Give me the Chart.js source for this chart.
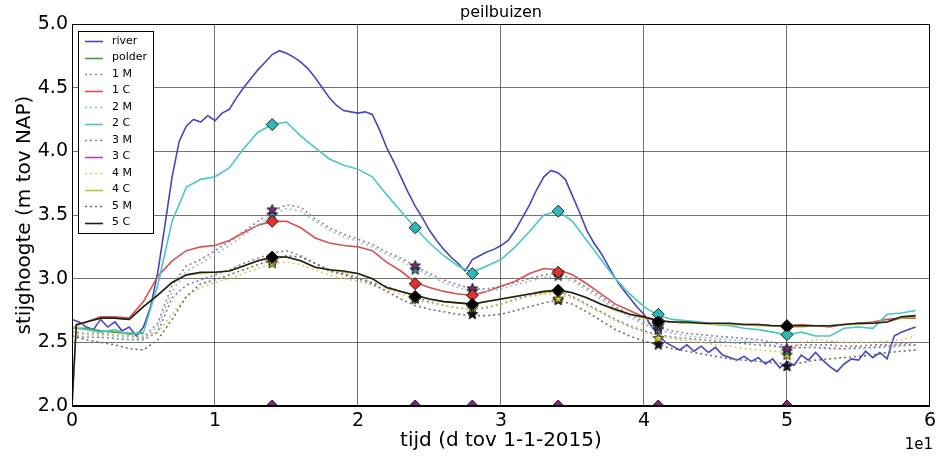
<!DOCTYPE html>
<html>
<head>
<meta charset="utf-8">
<script src="https://cdn.jsdelivr.net/npm/chart.js@4.4.0/dist/chart.umd.min.js"></script>
<style>
html,body{margin:0;padding:0;background:#fff;}
canvas{display:block;}
</style>
</head>
<body>
<canvas id="c" width="940" height="457"></canvas>
<script>
// ---- time axes (days since 1-1-2015) ----
const t0 = [0,0.3,1,2,3,4,5,6,7,8,9,10,11,12,13,14,15,16,17,18,19,20,21,22,23,24,25,26,27,28,29,30,31,32,33,34,35,36,37,38,39,40,41,42,43,44,45,46,47,48,49,50,51,52,53,54,55,56,57,58,59];
const tRiver = [0,0.5,1,1.5,2,2.5,3,3.5,4,4.5,5,5.5,6,6.5,7,7.5,8,8.5,9,9.5,10,10.5,11,11.5,12,12.5,13,13.5,14,14.5,15,15.5,16,16.5,17,17.5,18,18.5,19,19.5,20,20.5,21,21.5,22,22.5,23,23.5,24,24.5,25,25.5,26,26.5,27,27.5,28,28.5,29,29.5,30,30.5,31,31.5,32,32.5,33,33.5,34,34.5,35,35.5,36,36.5,37,37.5,38,38.5,39,39.5,40,40.5,41,41.5,42,42.5,43,43.5,44,44.5,45,45.5,46,46.5,47,47.5,48,48.5,49,49.5,50,50.5,51,51.5,52,52.5,53,53.5,54,54.5,55,55.5,56,56.5,57,57.5,58,58.5,59];
const tPolder = [0.2,1,2,3,4,5];

// ---- series values (m tov NAP) ----
const river = [2.68,2.66,2.62,2.60,2.68,2.62,2.66,2.59,2.62,2.55,2.62,2.78,3.05,3.42,3.80,4.08,4.20,4.25,4.23,4.28,4.24,4.30,4.33,4.42,4.50,4.57,4.64,4.70,4.76,4.79,4.77,4.74,4.70,4.65,4.58,4.50,4.42,4.36,4.32,4.31,4.30,4.31,4.29,4.17,4.03,3.92,3.80,3.68,3.57,3.48,3.38,3.30,3.23,3.17,3.12,3.06,3.15,3.18,3.21,3.23,3.26,3.30,3.38,3.48,3.58,3.70,3.80,3.85,3.83,3.78,3.65,3.52,3.38,3.28,3.20,3.10,3.00,2.92,2.85,2.78,2.72,2.63,2.56,2.50,2.47,2.44,2.48,2.43,2.47,2.42,2.46,2.40,2.38,2.36,2.39,2.35,2.38,2.33,2.37,2.30,2.35,2.32,2.40,2.36,2.42,2.36,2.31,2.27,2.33,2.37,2.36,2.43,2.38,2.42,2.37,2.55,2.58,2.60,2.62];
const polder = [2.61,2.61,2.59,2.58,2.57,2.57];
const m1 = [2.58,2.58,2.57,2.57,2.56,2.55,2.54,2.65,2.95,3.10,3.15,3.22,3.29,3.37,3.45,3.53,3.58,3.56,3.47,3.40,3.35,3.31,3.27,3.21,3.16,3.10,3.04,2.99,2.95,2.92,2.92,2.94,2.97,3.00,3.03,3.04,3.00,2.93,2.86,2.78,2.72,2.66,2.62,2.59,2.57,2.56,2.55,2.54,2.53,2.52,2.50,2.47,2.48,2.48,2.48,2.47,2.47,2.48,2.48,2.49,2.50];
const c1 = [2.60,2.63,2.66,2.70,2.70,2.69,2.82,3.02,3.14,3.22,3.25,3.26,3.30,3.36,3.42,3.45,3.45,3.40,3.32,3.28,3.26,3.25,3.22,3.13,3.06,2.97,2.93,2.90,2.88,2.87,2.90,2.94,2.98,3.04,3.08,3.07,3.03,2.96,2.88,2.80,2.75,2.70,2.67,2.66,2.65,2.65,2.64,2.64,2.64,2.64,2.63,2.63,2.64,2.63,2.62,2.64,2.65,2.66,2.68,2.69,2.69];
const m2 = [2.57,2.57,2.56,2.56,2.55,2.54,2.53,2.62,2.90,3.06,3.12,3.19,3.26,3.34,3.42,3.50,3.55,3.53,3.45,3.38,3.33,3.29,3.25,3.19,3.14,3.08,3.02,2.97,2.93,2.90,2.90,2.92,2.95,2.98,3.01,3.02,2.98,2.91,2.84,2.76,2.70,2.64,2.60,2.57,2.55,2.54,2.53,2.52,2.51,2.50,2.48,2.45,2.46,2.46,2.46,2.45,2.45,2.46,2.46,2.47,2.48];
const c2 = [2.62,2.61,2.60,2.58,2.60,2.56,2.58,2.95,3.45,3.72,3.78,3.80,3.87,4.02,4.15,4.21,4.23,4.12,4.03,3.94,3.89,3.86,3.80,3.66,3.53,3.40,3.28,3.18,3.10,3.05,3.10,3.15,3.25,3.37,3.50,3.53,3.45,3.30,3.15,3.00,2.88,2.78,2.71,2.68,2.67,2.66,2.64,2.63,2.61,2.60,2.58,2.56,2.58,2.55,2.55,2.61,2.62,2.61,2.72,2.73,2.75];
const m3 = [2.55,2.55,2.54,2.54,2.53,2.52,2.52,2.58,2.85,2.95,2.99,3.03,3.07,3.12,3.16,3.20,3.22,3.18,3.12,3.07,3.04,3.01,2.97,2.94,2.90,2.86,2.82,2.79,2.77,2.76,2.77,2.80,2.84,2.87,2.89,2.90,2.86,2.80,2.74,2.68,2.63,2.59,2.56,2.54,2.53,2.52,2.51,2.50,2.49,2.48,2.47,2.46,2.46,2.46,2.45,2.45,2.46,2.46,2.47,2.48,2.48];
const m4 = [2.57,2.57,2.57,2.56,2.56,2.55,2.55,2.58,2.72,2.86,2.93,2.97,3.00,3.04,3.08,3.12,3.13,3.11,3.07,3.03,3.00,2.98,2.95,2.91,2.88,2.84,2.81,2.79,2.77,2.76,2.78,2.80,2.83,2.86,2.88,2.88,2.85,2.79,2.73,2.67,2.62,2.58,2.55,2.53,2.51,2.50,2.48,2.47,2.45,2.44,2.43,2.42,2.50,2.52,2.51,2.50,2.50,2.50,2.51,2.52,2.55];
const c4 = [2.00,2.63,2.66,2.69,2.69,2.68,2.78,2.87,2.97,3.03,3.04,3.05,3.06,3.10,3.14,3.16,3.17,3.14,3.09,3.07,3.05,3.04,3.00,2.93,2.90,2.87,2.84,2.82,2.81,2.80,2.82,2.84,2.86,2.88,2.89,2.91,2.89,2.85,2.80,2.75,2.72,2.69,2.67,2.66,2.65,2.65,2.64,2.64,2.64,2.63,2.63,2.62,2.62,2.63,2.63,2.64,2.64,2.65,2.66,2.69,2.70];
const m5 = [2.55,2.54,2.52,2.50,2.48,2.45,2.44,2.52,2.68,2.86,2.96,2.99,3.03,3.07,3.11,3.15,3.18,3.17,3.12,3.06,3.03,3.00,2.96,2.90,2.84,2.79,2.76,2.74,2.72,2.71,2.71,2.72,2.75,2.78,2.81,2.83,2.80,2.74,2.67,2.60,2.55,2.51,2.48,2.45,2.43,2.41,2.39,2.37,2.36,2.35,2.34,2.33,2.34,2.36,2.37,2.38,2.39,2.40,2.42,2.43,2.44];
const c5 = [2.00,2.64,2.66,2.69,2.69,2.68,2.78,2.87,2.97,3.03,3.05,3.05,3.06,3.10,3.14,3.17,3.17,3.14,3.09,3.07,3.06,3.04,3.00,2.93,2.90,2.87,2.84,2.82,2.81,2.80,2.82,2.84,2.86,2.88,2.90,2.91,2.89,2.85,2.80,2.76,2.72,2.70,2.67,2.66,2.66,2.65,2.65,2.65,2.64,2.64,2.63,2.63,2.63,2.63,2.63,2.64,2.65,2.65,2.66,2.70,2.71];

// ---- measurement markers ----
const markT = [14,24,28,34,41,50];
const c1Mark = [3.45,2.96,2.87,3.05,2.67,2.63];
const c2Mark = [4.21,3.40,3.04,3.53,2.72,2.56];
const c3Mark = [2.0,2.0,2.0,2.0,2.0,2.0];
const c4Mark = [3.16,2.85,2.79,2.90,2.65,2.62];
const c5Mark = [3.17,2.86,2.80,2.91,2.66,2.63];
const m1Mark = [3.54,3.10,2.92,3.05,2.62,2.45];
const m2Mark = [3.50,3.07,2.90,3.02,2.60,2.43];
const m4Mark = [3.12,2.86,2.77,2.84,2.53,2.40];
const m5Mark = [3.14,2.84,2.72,2.83,2.48,2.31];

const legendNames = ['river','polder','1 M','1 C','2 M','2 C','3 M','3 C','4 M','4 C','5 M','5 C'];
const xTicks = [0,10,20,30,40,50,60];

const FONT = "'DejaVu Sans', 'Liberation Sans', sans-serif";
const COL = {
  river:'#4646bf', polder:'#3f9f3f', m1:'#a07c96', c1:'#d65252', m2:'#8cc8c8', c2:'#4cc6c6',
  m3:'#8a7ca8', c3:'#b446b4', m4:'#d6cc60', c4:'#bcc23e', m5:'#6e6e6e', c5:'#1e1e1e'
};

function pts(xs, ys){ return xs.map((x,i)=>({x:x, y:ys[i]})); }

function starImg(fill){
  const s = 13, c = document.createElement('canvas');
  c.width = s; c.height = s;
  const g = c.getContext('2d');
  g.beginPath();
  for (let i=0;i<10;i++){
    const r = i%2 ? 2.4 : 5.6;
    const a = -Math.PI/2 + i*Math.PI/5;
    const px = s/2 + r*Math.cos(a), py = s/2 + r*Math.sin(a);
    if(i===0) g.moveTo(px,py); else g.lineTo(px,py);
  }
  g.closePath();
  g.fillStyle = fill; g.fill();
  g.lineWidth = 0.8; g.strokeStyle = '#000'; g.stroke();
  return c;
}

function lineDs(label, xs, ys, color, dotted, order){
  return {label, data: pts(xs, ys), borderColor: color, backgroundColor: color,
    borderWidth: 1.6, borderDash: dotted ? [2,3] : [], pointRadius: 0,
    tension: 0, order: order, clip: 0};
}
function diamondDs(ys, color, order, clip){
  return {label:'_m', data: pts(markT, ys), showLine:false, pointStyle:'rectRot', pointRadius:6,
    pointBackgroundColor: color, pointBorderColor:'#000', pointBorderWidth:0.8, order: order, clip: clip};
}
function starDs(ys, color, order){
  return {label:'_s', data: pts(markT, ys), showLine:false, pointStyle: starImg(color), pointRadius:6,
    order: order, clip: false};
}

const datasets = [
  lineDs('river', tRiver, river, COL.river, false, 40),
  lineDs('polder', tPolder, polder, COL.polder, false, 39),
  lineDs('1 M', t0, m1, COL.m1, true, 38),
  lineDs('1 C', t0, c1, COL.c1, false, 37),
  lineDs('2 M', t0, m2, COL.m2, true, 36),
  lineDs('2 C', t0, c2, COL.c2, false, 35),
  lineDs('3 M', t0, m3, COL.m3, true, 34),
  lineDs('4 M', t0, m4, COL.m4, true, 32),
  lineDs('4 C', t0, c4, COL.c4, false, 31),
  lineDs('5 M', t0, m5, COL.m5, true, 30),
  lineDs('5 C', t0, c5, COL.c5, false, 29),
  starDs(m5Mark, '#111111', 12),
  starDs(m4Mark, '#d8cc30', 11),
  starDs(m2Mark, '#3a9c9c', 10),
  starDs(m1Mark, '#7c2c80', 9),
  diamondDs(c4Mark, '#c8c840', 8, false),
  diamondDs(c1Mark, '#e03030', 7, false),
  diamondDs(c2Mark, '#30b8b8', 6, false),
  diamondDs(c5Mark, '#000000', 5, false),
  diamondDs(c3Mark, '#8c1c8c', 4, 0)
];

const legendStyle = [
  [COL.river,false],[COL.polder,false],[COL.m1,true],[COL.c1,false],[COL.m2,true],[COL.c2,false],
  [COL.m3,true],[COL.c3,false],[COL.m4,true],[COL.c4,false],[COL.m5,true],[COL.c5,false]
];

const decor = {
  id:'decor',
  afterDraw(chart){
    const ctx = chart.ctx, a = chart.chartArea;
    ctx.save();
    // frame
    ctx.strokeStyle = '#000'; ctx.lineWidth = 1; ctx.setLineDash([]);
    ctx.strokeRect(Math.round(a.left)+0.5, Math.round(a.top)+0.5, Math.round(a.right-a.left)-1, Math.round(a.bottom-a.top)-1);
    // legend
    const lx = 78.5, ly = 31.5, lw = 75, lh = 202;
    ctx.fillStyle = '#fff'; ctx.fillRect(lx, ly, lw, lh);
    ctx.strokeStyle = '#000'; ctx.lineWidth = 1; ctx.strokeRect(lx, ly, lw, lh);
    ctx.font = '11px ' + FONT; ctx.textBaseline = 'middle'; ctx.textAlign = 'left';
    for (let i=0;i<legendNames.length;i++){
      const y = 41 + i*16.5;
      ctx.beginPath();
      ctx.strokeStyle = legendStyle[i][0]; ctx.lineWidth = 1.6;
      ctx.setLineDash(legendStyle[i][1] ? [2,3] : []);
      ctx.moveTo(85, Math.round(y)+0.5); ctx.lineTo(103, Math.round(y)+0.5); ctx.stroke();
      ctx.setLineDash([]);
      ctx.fillStyle = '#000';
      ctx.fillText(legendNames[i], 112, y);
    }
    // title
    ctx.font = '16px ' + FONT; ctx.textAlign = 'center'; ctx.textBaseline = 'middle';
    ctx.fillText('peilbuizen', (a.left+a.right)/2, 13);
    // axis titles
    ctx.font = '20px ' + FONT;
    ctx.fillText('tijd (d tov 1-1-2015)', (a.left+a.right)/2, 441);
    ctx.save();
    ctx.translate(25, (a.top+a.bottom)/2);
    ctx.rotate(-Math.PI/2);
    ctx.fillText('stijghoogte (m tov NAP)', 0, 0);
    ctx.restore();
    // offset text
    ctx.font = '15px ' + FONT; ctx.textAlign = 'right';
    ctx.fillText('1e1', 933, 445);
    ctx.restore();
  }
};

new Chart(document.getElementById('c'), {
  type: 'line',
  data: { datasets },
  options: {
    responsive: false, animation: false, devicePixelRatio: 1,
    layout: { padding: { top: 24, right: 7, left: 0, bottom: 0 } },
    plugins: { legend: { display: false }, tooltip: { enabled: false }, title: { display: false } },
    scales: {
      x: { type: 'linear', min: 0, max: 60,
        afterFit(s){ s.height = 51; },
        afterBuildTicks(s){ s.ticks = xTicks.map(v=>({value:v})); },
        ticks: { callback: v => String(v/10), font: { family: FONT, size: 19 }, color: '#000', padding: 4, maxRotation: 0 },
        grid: { color: 'rgba(0,0,0,0.55)', lineWidth: 1, drawTicks: false },
        border: { display: true, color: '#000' } },
      y: { type: 'linear', min: 2, max: 5,
        afterFit(s){ s.width = 72; },
        ticks: { stepSize: 0.5, callback: v => v.toFixed(1), font: { family: FONT, size: 19 }, color: '#000', padding: 4 },
        grid: { color: 'rgba(0,0,0,0.55)', lineWidth: 1, drawTicks: false },
        border: { display: true, color: '#000' } }
    }
  },
  plugins: [decor]
});
</script>
</body>
</html>
